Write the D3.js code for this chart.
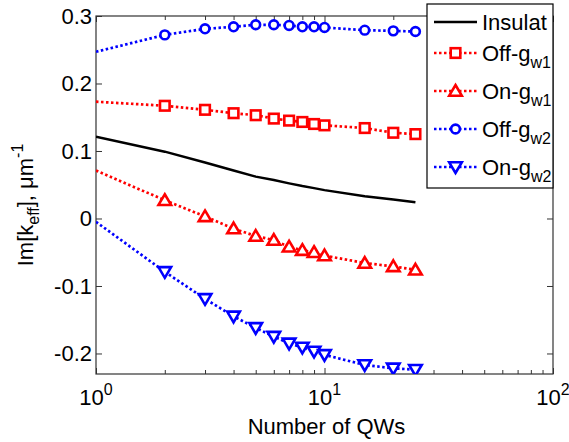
<!DOCTYPE html>
<html>
<head>
<meta charset="utf-8">
<script src="https://cdn.jsdelivr.net/npm/d3@7"></script>
<style>
  html, body { margin: 0; padding: 0; background: #fff; }
  svg { display: block; }
  text { font-family: "Liberation Sans", Arial, sans-serif; fill: #000; }
</style>
</head>
<body>
<svg id="chart" width="569" height="442"></svg>
<script>
// Number of quantum wells
const qws = [1, 2, 3, 4, 5, 6, 7, 8, 9, 10, 15, 20, 25];

// Im[k_eff] in 1/um for each configuration
const insulat = [0.121, 0.099, 0.083, 0.071, 0.062, 0.057, 0.052, 0.048, 0.045, 0.042, 0.033, 0.028, 0.024];
const offGw1  = [0.173, 0.167, 0.161, 0.156, 0.153, 0.148, 0.145, 0.143, 0.140, 0.138, 0.134, 0.127, 0.125];
const onGw1   = [0.071, 0.027, 0.003, -0.015, -0.026, -0.032, -0.042, -0.047, -0.050, -0.055, -0.066, -0.071, -0.076];
const offGw2  = [0.247, 0.272, 0.281, 0.284, 0.287, 0.287, 0.286, 0.284, 0.284, 0.283, 0.279, 0.278, 0.277];
const onGw2   = [-0.005, -0.079, -0.119, -0.145, -0.162, -0.175, -0.185, -0.191, -0.197, -0.202, -0.217, -0.222, -0.224];

// Axis ticks
const xMajor = [1, 10, 100];
const xMajorExp = ["0", "1", "2"];
const yTicks = [-0.2, -0.1, 0, 0.1, 0.2, 0.3];
const yTickLabels = ["-0.2", "-0.1", "0", "0.1", "0.2", "0.3"];

const series = [
  { name: "Insulat", sub: "",   values: insulat, color: "#000000", marker: null,       dash: null },
  { name: "Off-g",   sub: "w1", values: offGw1,  color: "#ff0000", marker: "square",   dash: "2.5,2.5" },
  { name: "On-g",    sub: "w1", values: onGw1,   color: "#ff0000", marker: "triUp",    dash: "2.5,2.5" },
  { name: "Off-g",   sub: "w2", values: offGw2,  color: "#0000ff", marker: "circle",   dash: "2.5,2.5" },
  { name: "On-g",    sub: "w2", values: onGw2,   color: "#0000ff", marker: "triDown",  dash: "2.5,2.5" }
];

const svg = d3.select("#chart");
const L = 96, R = 553, T = 16, B = 374;
const FS = 22, FS_SMALL = 16;

const x = d3.scaleLog().domain([1, 100]).range([L, R]);
const y = d3.scaleLinear().domain([-0.2304, 0.3]).range([B, T]);

// minor tick positions for the log axis
const xMinor = [];
for (let dec = 1; dec < 100; dec *= 10) for (let k = 2; k <= 9; k++) xMinor.push(k * dec);

const axisColor = "#333";

function styleAxis(g) {
  g.select(".domain").remove();
  g.selectAll("line").attr("stroke", axisColor).attr("stroke-width", 1);
}

// bottom / top ticks
svg.append("g").attr("transform", `translate(0,${B})`)
  .call(d3.axisBottom(x).tickValues(xMajor).tickSize(-6).tickFormat(""))
  .call(styleAxis);
svg.append("g").attr("transform", `translate(0,${B})`)
  .call(d3.axisBottom(x).tickValues(xMinor).tickSize(-4).tickFormat(""))
  .call(styleAxis);
svg.append("g").attr("transform", `translate(0,${T})`)
  .call(d3.axisTop(x).tickValues(xMajor).tickSize(-6).tickFormat(""))
  .call(styleAxis);
svg.append("g").attr("transform", `translate(0,${T})`)
  .call(d3.axisTop(x).tickValues(xMinor).tickSize(-4).tickFormat(""))
  .call(styleAxis);

// left / right ticks
const yLeft = svg.append("g").attr("transform", `translate(${L},0)`)
  .call(d3.axisLeft(y).tickValues(yTicks).tickSize(-6).tickPadding(4)
    .tickFormat((d, i) => yTickLabels[i]))
  .call(styleAxis);
yLeft.selectAll("text").attr("font-size", FS)
  .style("font-family", "'Liberation Sans', Arial, sans-serif").attr("fill", "#000");
svg.append("g").attr("transform", `translate(${R},0)`)
  .call(d3.axisRight(y).tickValues(yTicks).tickSize(-6).tickFormat(""))
  .call(styleAxis);

// x tick labels: 10^n
xMajor.forEach((v, i) => {
  const t = svg.append("text")
    .attr("x", x(v)).attr("y", B + 31)
    .attr("text-anchor", "middle")
    .attr("font-size", FS);
  t.append("tspan").text("10");
  t.append("tspan").attr("dy", -10).attr("font-size", FS_SMALL).text(xMajorExp[i]);
});

// axes box
svg.append("rect")
  .attr("x", L).attr("y", T).attr("width", R - L).attr("height", B - T)
  .attr("fill", "none").attr("stroke", axisColor).attr("stroke-width", 1.2);

// clip for data
svg.append("clipPath").attr("id", "plotclip")
  .append("rect").attr("x", L).attr("y", T).attr("width", R - L).attr("height", B - T);

const line = d3.line().x(d => x(d[0])).y(d => y(d[1]));

function drawMarker(g, type, cx, cy, color) {
  const sw = 2.6;
  if (type === "square") {
    g.append("rect").attr("x", cx - 4.8).attr("y", cy - 4.8).attr("width", 9.6).attr("height", 9.6)
      .attr("fill", "#fff").attr("stroke", color).attr("stroke-width", sw);
  } else if (type === "circle") {
    g.append("circle").attr("cx", cx).attr("cy", cy).attr("r", 4.4)
      .attr("fill", "#fff").attr("stroke", color).attr("stroke-width", sw);
  } else if (type === "triUp") {
    g.append("path").attr("d", `M${cx},${cy - 6}L${cx + 6.3},${cy + 4.7}L${cx - 6.3},${cy + 4.7}Z`)
      .attr("fill", "#fff").attr("stroke", color).attr("stroke-width", sw).attr("stroke-linejoin", "miter");
  } else if (type === "triDown") {
    g.append("path").attr("d", `M${cx},${cy + 6}L${cx + 6.3},${cy - 4.7}L${cx - 6.3},${cy - 4.7}Z`)
      .attr("fill", "#fff").attr("stroke", color).attr("stroke-width", sw).attr("stroke-linejoin", "miter");
  }
}

const plot = svg.append("g").attr("clip-path", "url(#plotclip)");
series.forEach(s => {
  const pts = qws.map((q, i) => [q, s.values[i]]);
  const p = plot.append("path").datum(pts)
    .attr("d", line)
    .attr("fill", "none")
    .attr("stroke", s.color)
    .attr("stroke-width", s.dash ? 2.7 : 2.5);
  if (s.dash) p.attr("stroke-dasharray", s.dash);
  if (s.marker) {
    const mg = plot.append("g");
    pts.filter(d => d[0] > 1).forEach(d => drawMarker(mg, s.marker, x(d[0]), y(d[1]), s.color));
  }
});

// axis titles
svg.append("text")
  .attr("x", (L + R) / 2 + 2).attr("y", 434)
  .attr("text-anchor", "middle").attr("font-size", FS)
  .text("Number of QWs");

const yl = svg.append("text")
  .attr("transform", `translate(33,${(T + B) / 2 + 10}) rotate(-90)`)
  .attr("text-anchor", "middle").attr("font-size", FS);
yl.append("tspan").text("Im[k");
yl.append("tspan").attr("dy", 6).attr("font-size", FS_SMALL).text("eff");
yl.append("tspan").attr("dy", -6).text("], \u03bcm");
yl.append("tspan").attr("dy", -10).attr("font-size", FS_SMALL).text("-1");

// legend
const lg = svg.append("g");
lg.append("rect").attr("x", 427).attr("y", 4).attr("width", 126).attr("height", 184)
  .attr("fill", "#fff").attr("stroke", "#000").attr("stroke-width", 1.2);
series.forEach((s, i) => {
  const ly = i === 0 ? 22 : 53 + 38 * (i - 1);
  const seg = lg.append("line").attr("x1", 434).attr("x2", 477).attr("y1", ly).attr("y2", ly)
    .attr("stroke", s.color).attr("stroke-width", s.dash ? 2.7 : 2.5);
  if (s.dash) seg.attr("stroke-dasharray", s.dash);
  if (s.marker) drawMarker(lg, s.marker, 455.5, ly, s.color);
  const t = lg.append("text").attr("x", 482).attr("y", ly + 7.5).attr("font-size", FS);
  t.append("tspan").text(s.name);
  if (s.sub) t.append("tspan").attr("dy", 7).attr("font-size", FS_SMALL).text(s.sub);
});
</script>
</body>
</html>
